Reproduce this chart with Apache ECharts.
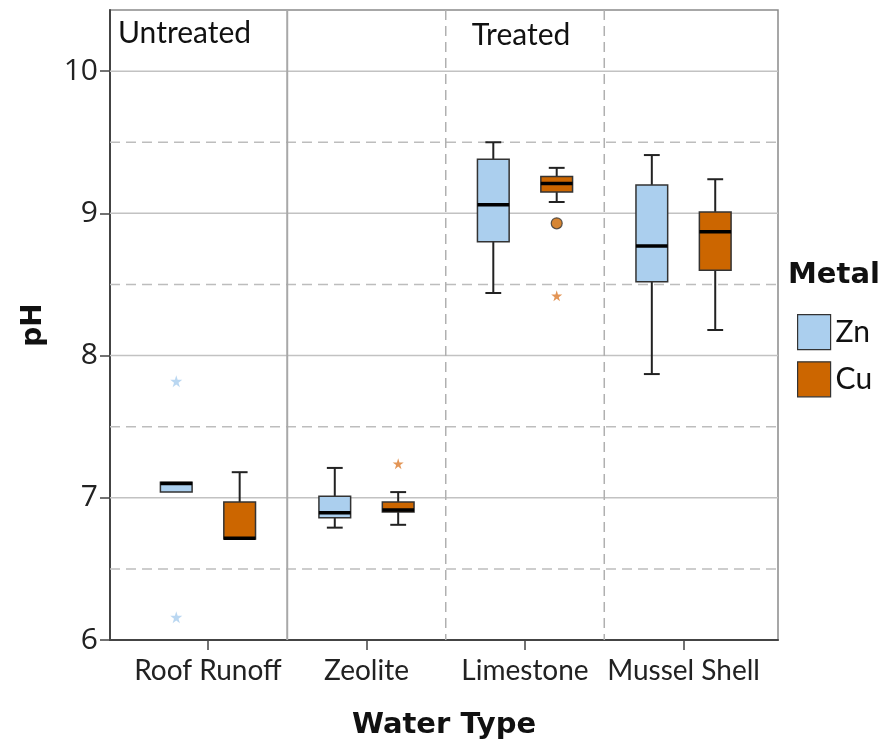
<!DOCTYPE html>
<html><head><meta charset="utf-8">
<script src="https://cdn.jsdelivr.net/npm/echarts@6/dist/echarts.min.js"></script>
<style>html,body{margin:0;padding:0;background:#fff}#c{width:886px;height:751px}</style>
</head><body><div id="c"></div>
<script>
const categories = ['Roof Runoff', 'Zeolite', 'Limestone', 'Mussel Shell'];
// [min, q1, median, q3, max]
const znStats = [[7.04, 7.04, 7.10, 7.11, 7.11], [6.79, 6.86, 6.895, 7.01, 7.21], [8.44, 8.80, 9.06, 9.38, 9.50], [7.87, 8.52, 8.77, 9.20, 9.41]];
const cuStats = [[6.71, 6.71, 6.715, 6.97, 7.18], [6.81, 6.90, 6.915, 6.97, 7.04], [9.08, 9.15, 9.21, 9.26, 9.32], [8.18, 8.60, 8.87, 9.01, 9.24]];
const znStarOutliers = [[0, 7.82], [0, 6.16]];
const cuStarOutliers = [[1, 7.24], [2, 8.42]];
const cuCircleOutliers = [[2, 8.93]];
const yTicks = [6, 7, 8, 9, 10];
const ySolidLines = [7, 8, 9, 10];
const yDashedLines = [6.5, 7.5, 8.5, 9.5];
const xSolidDividers = [0.5];
const xDashedDividers = [1.5, 2.5];
const groupLabels = ['Untreated', 'Treated'];

const ZN = '#abcfee', CU = '#cc6600';
const OFF = 0.2, BOXW = 0.2, CAPW = 0.1;
const STAR = 'path://M50,0 L61,35 L98,35 L68,57 L79,91 L50,70 L21,91 L32,57 L2,35 L39,35 Z';

function boxData(stats, offset) { return stats.map((s, i) => [i + offset].concat(s)); }
function outData(arr, offset) { return arr.map(p => [p[0] + offset, p[1]]); }

function renderBox(params, api) {
  const x = api.value(0);
  const lo = api.value(1), q1 = api.value(2), med = api.value(3), q3 = api.value(4), hi = api.value(5);
  const pLo = api.coord([x, lo]), pQ1 = api.coord([x, q1]), pMed = api.coord([x, med]), pQ3 = api.coord([x, q3]), pHi = api.coord([x, hi]);
  const halfW = api.size([BOXW, 0])[0] / 2;
  const capHalf = api.size([CAPW, 0])[0] / 2;
  const cx = pMed[0];
  const ls = { stroke: '#222', lineWidth: 2 };
  const ch = [];
  if (hi > q3) {
    ch.push({ type: 'line', shape: { x1: cx, y1: pHi[1], x2: cx, y2: pQ3[1] }, style: ls });
    ch.push({ type: 'line', shape: { x1: cx - capHalf, y1: pHi[1], x2: cx + capHalf, y2: pHi[1] }, style: ls });
  }
  if (lo < q1) {
    ch.push({ type: 'line', shape: { x1: cx, y1: pLo[1], x2: cx, y2: pQ1[1] }, style: ls });
    ch.push({ type: 'line', shape: { x1: cx - capHalf, y1: pLo[1], x2: cx + capHalf, y2: pLo[1] }, style: ls });
  }
  ch.push({ type: 'rect', shape: { x: cx - halfW, y: pQ3[1], width: 2 * halfW, height: pQ1[1] - pQ3[1] }, style: { fill: api.visual('color'), stroke: '#333', lineWidth: 1.5 } });
  ch.push({ type: 'line', shape: { x1: cx - halfW, y1: pMed[1], x2: cx + halfW, y2: pMed[1] }, style: { stroke: '#000', lineWidth: 3.5 } });
  return { type: 'group', children: ch };
}

function hLineRenderer(dashed) {
  return function (params, api) {
    const cs = params.coordSys;
    const y = api.coord([0, api.value(0)])[1];
    return { type: 'line', shape: { x1: cs.x, y1: y, x2: cs.x + cs.width, y2: y },
      style: { stroke: dashed ? '#bdbdbd' : '#c2c2c2', lineWidth: 1.5, lineDash: dashed ? [10, 6] : null } };
  };
}
function vLineRenderer(dashed) {
  return function (params, api) {
    const cs = params.coordSys;
    const x = api.coord([api.value(0), 8])[0];
    return { type: 'line', shape: { x1: x, y1: cs.y, x2: x, y2: cs.y + cs.height },
      style: { stroke: dashed ? '#b0b0b0' : '#a8a8a8', lineWidth: dashed ? 1.5 : 2, lineDash: dashed ? [10, 6] : null } };
  };
}

const chart = echarts.init(document.getElementById('c'), null, { renderer: 'canvas' });
chart.setOption({
  animation: false,
  backgroundColor: '#fff',
  grid: { left: 110, right: 108, top: 10, bottom: 111, show: true, borderColor: '#8a8a8a', borderWidth: 1.5 },
  xAxis: {
    type: 'value', min: -0.618, max: 3.596,
    axisLine: { show: true, onZero: false, lineStyle: { color: '#444', width: 2 } },
    axisTick: { show: true, customValues: [0, 1, 2, 3], length: 10, lineStyle: { color: '#444', width: 1.5 } },
    axisLabel: { customValues: [0, 1, 2, 3], formatter: v => categories[Math.round(v)], fontFamily: 'Lato', fontSize: 28, color: '#222', margin: 17 },
    splitLine: { show: false },
    name: 'Water Type', nameLocation: 'middle', nameGap: 71,
    nameTextStyle: { fontFamily: 'DejaVu Sans', fontWeight: 'bold', fontSize: 29, color: '#111' }
  },
  yAxis: {
    type: 'value', min: 6, max: 10.43,
    axisLine: { show: true, onZero: false, lineStyle: { color: '#444', width: 2 } },
    axisTick: { show: true, customValues: yTicks, length: 10, lineStyle: { color: '#444', width: 1.5 } },
    axisLabel: { customValues: yTicks, fontFamily: 'Open Sans', fontSize: 30, color: '#222', margin: 12 },
    splitLine: { show: false },
    name: 'pH', nameLocation: 'middle', nameRotate: 90, nameGap: 62,
    nameTextStyle: { fontFamily: 'DejaVu Sans', fontWeight: 'bold', fontSize: 28, color: '#111' }
  },
  legend: {
    orient: 'vertical', left: 797, top: 314, itemWidth: 33, itemHeight: 35, itemGap: 11, padding: 0,
    textStyle: { fontFamily: 'Lato', fontSize: 30, color: '#111' },
    data: [
      { name: 'Zn', icon: 'rect', itemStyle: { color: ZN, borderColor: '#333', borderWidth: 1.2 } },
      { name: 'Cu', icon: 'rect', itemStyle: { color: CU, borderColor: '#333', borderWidth: 1.2 } }
    ]
  },
  graphic: [
    { type: 'text', left: 788, top: 261, style: { text: 'Metal', font: 'bold 29px "DejaVu Sans"', fill: '#111' } },
    { type: 'text', left: 118, top: 18, style: { text: groupLabels[0], font: '30px Lato', fill: '#111' } },
    { type: 'text', x: 521, y: 20, style: { text: groupLabels[1], font: '30px Lato', fill: '#111', textAlign: 'center' } }
  ],
  series: [
    { type: 'custom', name: 'hs', silent: true, z: 1, data: ySolidLines.map(v => [v]), renderItem: hLineRenderer(false) },
    { type: 'custom', name: 'hd', silent: true, z: 1, data: yDashedLines.map(v => [v]), renderItem: hLineRenderer(true) },
    { type: 'custom', name: 'vs', silent: true, z: 1, data: xSolidDividers.map(v => [v]), renderItem: vLineRenderer(false) },
    { type: 'custom', name: 'vd', silent: true, z: 1, data: xDashedDividers.map(v => [v]), renderItem: vLineRenderer(true) },
    { type: 'custom', name: 'Zn', z: 3, itemStyle: { color: ZN }, data: boxData(znStats, -OFF), renderItem: renderBox, encode: { x: 0, y: [1, 2, 3, 4, 5] } },
    { type: 'custom', name: 'Cu', z: 3, itemStyle: { color: CU }, data: boxData(cuStats, OFF), renderItem: renderBox, encode: { x: 0, y: [1, 2, 3, 4, 5] } },
    { type: 'scatter', name: 'znOut', z: 4, symbol: STAR, symbolSize: 12, itemStyle: { color: '#a9cdee' }, data: outData(znStarOutliers, -OFF) },
    { type: 'scatter', name: 'cuOut', z: 4, symbol: STAR, symbolSize: 11, itemStyle: { color: '#dc7a2c' }, data: outData(cuStarOutliers, OFF) },
    { type: 'scatter', name: 'cuCirc', z: 4, symbol: 'circle', symbolSize: 11, itemStyle: { color: CU, borderColor: '#333', borderWidth: 1.2 }, data: outData(cuCircleOutliers, OFF) }
  ]
});
</script>
</body></html>
